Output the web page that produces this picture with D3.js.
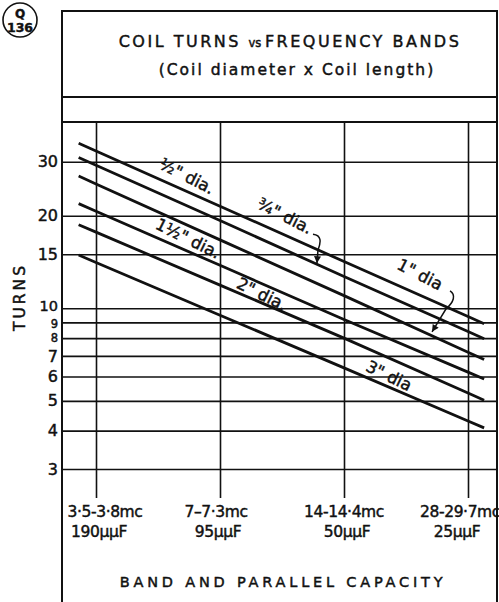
<!DOCTYPE html>
<html><head><meta charset="utf-8">
<script src="https://cdn.jsdelivr.net/npm/d3@7"></script>
<style>
html,body{margin:0;padding:0;background:#fff;}
svg{display:block;}
text{font-family:"DejaVu Sans",sans-serif;fill:#111;stroke:#111;stroke-width:0.45px;}
</style></head><body>
<svg id="chart" width="499" height="602"></svg>
<script>
// Amateur bands and the parallel capacity used on each
const bands = ["3·5-3·8mc", "7–7·3mc", "14-14·4mc", "28-29·7mc"];
const capacities = ["190μμF", "95μμF", "50μμF", "25μμF"];
// Coil sizes (diameter = length)
const coilNames = ['½" dia.', '¾" dia.', '1" dia', '1½" dia.', '2" dia.', '3" dia'];
// Turns needed on each band, per coil size
const turnsHalf = [32.5, 21.5, 14.2, 9.4];
const turnsThreeQuarter = [29.2, 19.3, 12.7, 8.4];
const turnsOne = [25.4, 16.7, 11.0, 7.2];
const turnsOneHalf = [20.7, 13.8, 9.2, 6.2];
const turnsTwo = [17.7, 11.9, 8.0, 5.3];
const turnsThree = [14.1, 9.5, 6.4, 4.3];
const turnTicks = [3, 4, 5, 6, 7, 8, 9, 10, 15, 20, 30];

const series = [turnsHalf, turnsThreeQuarter, turnsOne, turnsOneHalf, turnsTwo, turnsThree];

const svg = d3.select("#chart");
const L = 62, R = 497, T = 11, titleBottom = 97, plotTop = 122, gridBottom = 498, B = 602;

const x = d3.scaleLinear().domain([0, bands.length - 1]).range([96, 468]);
const y = d3.scaleLog().domain([3, 30]).range([469, 161.7]);

// frame
const frame = svg.append("g").attr("stroke", "#111").attr("stroke-width", 2).attr("fill", "none");
frame.append("path").attr("d", `M${L},${B}V${T}H${R}V${B}`);
frame.append("line").attr("x1", L).attr("x2", R).attr("y1", titleBottom).attr("y2", titleBottom);
frame.append("line").attr("x1", L).attr("x2", R).attr("y1", plotTop).attr("y2", plotTop);

// horizontal grid via the turns axis
const yGrid = svg.append("g").attr("transform", `translate(${L},0)`)
  .call(d3.axisLeft(y).tickValues(turnTicks).tickSize(-(R - L)).tickFormat(""));
yGrid.select(".domain").remove();
yGrid.selectAll("line").attr("stroke", "#111").attr("stroke-width", 1.6);

// vertical grid at each band
const xGrid = svg.append("g").attr("transform", `translate(0,${gridBottom})`)
  .call(d3.axisBottom(x).tickValues(d3.range(bands.length)).tickSize(-(gridBottom - plotTop)).tickFormat(""));
xGrid.select(".domain").remove();
xGrid.selectAll("line").attr("stroke", "#111").attr("stroke-width", 1.6);

// turns labels (the crowded 8, 9, 10 set a little smaller)
const yAxis = svg.append("g").attr("transform", `translate(${L},0)`)
  .call(d3.axisLeft(y).tickValues(turnTicks).tickSize(0).tickPadding(4).tickFormat(d3.format("d")));
yAxis.select(".domain").remove();
yAxis.selectAll("text")
  .attr("font-size", d => (d === 9 || d === 8) ? 11.5 : (d === 10 ? 14.5 : 16))
  .attr("y", d => d === 10 ? -2 : (d === 9 ? 1 : 0))
  .attr("font-family", "DejaVu Sans").attr("fill", "#111");

svg.append("text").attr("transform", "translate(25,297) rotate(-90)")
  .attr("text-anchor", "middle").attr("font-size", 15.5).attr("letter-spacing", 3).text("TURNS");

// band labels
const row1dx = [9, -4, 0, -8], row2dx = [3, -2, 3, -11];
svg.append("g").selectAll("text").data(bands).join("text")
  .attr("x", (d, i) => x(i) + row1dx[i]).attr("y", 517)
  .attr("text-anchor", "middle").attr("font-size", 15.5).attr("letter-spacing", -0.4).text(d => d);
svg.append("g").selectAll("text").data(capacities).join("text")
  .attr("x", (d, i) => x(i) + row2dx[i]).attr("y", 537)
  .attr("text-anchor", "middle").attr("font-size", 15.5).attr("letter-spacing", -0.4).text(d => d);
svg.append("text").attr("x", 283).attr("y", 587).attr("text-anchor", "middle")
  .attr("font-size", 14.5).attr("letter-spacing", 3.8).text("BAND AND PARALLEL CAPACITY");

// title block
const title = svg.append("text").attr("x", 290).attr("y", 47).attr("text-anchor", "middle")
  .attr("font-size", 16).attr("letter-spacing", 2.5);
title.append("tspan").text("COIL TURNS ");
title.append("tspan").attr("font-size", 11.5).attr("letter-spacing", 0).text("vs ");
title.append("tspan").text("FREQUENCY  BANDS");
svg.append("text").attr("x", 297).attr("y", 75).attr("text-anchor", "middle")
  .attr("font-size", 15.5).attr("letter-spacing", 2).text("(Coil diameter x Coil length)");

// plate number
svg.append("circle").attr("cx", 20).attr("cy", 20).attr("r", 17)
  .attr("fill", "none").attr("stroke", "#111").attr("stroke-width", 1.6);
svg.append("text").attr("x", 20).attr("y", 18).attr("text-anchor", "middle")
  .attr("font-size", 12).attr("font-weight", "bold").text("Q");
svg.append("text").attr("x", 20).attr("y", 32).attr("text-anchor", "middle")
  .attr("font-size", 12.5).attr("font-weight", "bold").text("136");

// turns at a fractional band position (straight in log turns)
function turnsAt(vals, t) {
  const n = vals.length - 1;
  const i = Math.max(0, Math.min(n - 1, Math.floor(t)));
  const f = t - i;
  return Math.exp(Math.log(vals[i]) * (1 - f) + Math.log(vals[i + 1]) * f);
}

// coil curves, carried a little past the outer bands
const line = d3.line().x(d => x(d[0])).y(d => y(d[1]));
svg.append("g").selectAll("path").data(series).join("path")
  .attr("d", vals => line([[-0.14, turnsAt(vals, -0.14)], ...vals.map((v, i) => [i, v]), [3.13, turnsAt(vals, 3.13)]]))
  .attr("fill", "none").attr("stroke", "#111").attr("stroke-width", 2.8).attr("stroke-linecap", "butt");

// curve labels, set along each curve
const labelPlace = [
  { t: 0.734, up: 15.5 },
  { t: 1.524, up: 34 },
  { t: 2.613, up: 56 },
  { t: 0.742, up: 13 },
  { t: 1.339, up: 9 },
  { t: 2.363, up: 11.5 }
];
svg.append("g").selectAll("text").data(series).join("text")
  .attr("transform", (vals, k) => {
    const p = labelPlace[k];
    const px = x(p.t), py = y(turnsAt(vals, p.t)) - p.up;
    const ang = Math.atan2(y(vals[3]) - y(vals[0]), x(3) - x(0)) * 180 / Math.PI + 3;
    return `translate(${px},${py}) rotate(${ang})`;
  })
  .attr("text-anchor", "middle").attr("dy", "0.35em").attr("font-size", 16.5)
  .text((d, k) => coilNames[k]);

// arrows from labels to their curves
const defs = svg.append("defs");
defs.append("marker").attr("id", "head").attr("viewBox", "0 0 10 10")
  .attr("refX", 10).attr("refY", 5).attr("markerWidth", 8).attr("markerHeight", 7)
  .attr("markerUnits", "userSpaceOnUse").attr("orient", "auto")
  .append("path").attr("d", "M0,0L10,5L0,10z").attr("fill", "#111");

function arrowTo(vals, t, shape) {
  const tx = x(t), ty = y(turnsAt(vals, t));
  svg.append("path").attr("transform", `translate(${tx},${ty})`).attr("d", shape)
    .attr("fill", "none").attr("stroke", "#111").attr("stroke-width", 1.5)
    .attr("marker-end", "url(#head)");
}
arrowTo(turnsThreeQuarter, 1.782, "M-4,-30C5,-29 4,-22 1,-14L0,-1");
arrowTo(turnsOne, 2.694, "M20,-44C26,-40 24,-33 16,-26L2,-3");
</script>
</body></html>
